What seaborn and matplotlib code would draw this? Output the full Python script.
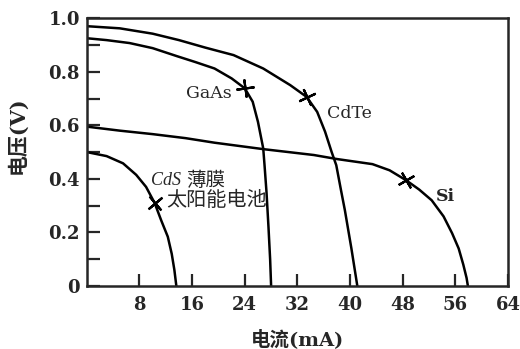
import matplotlib
matplotlib.use("Agg")
import matplotlib.pyplot as plt
import seaborn as sns
import pandas as pd

# I-V characteristics of several solar cells (current in mA, voltage in V)
gaas_i = [0, 3, 6.5, 10, 13.7, 16.5, 19.4, 22, 24.0, 25.2, 26.0, 26.8, 27.0,
          27.3, 27.6, 27.85, 28.0]
gaas_v = [0.925, 0.918, 0.907, 0.888, 0.858, 0.836, 0.812, 0.775, 0.738, 0.688,
          0.613, 0.514, 0.451, 0.35, 0.22, 0.10, 0.0]

cdte_i = [0, 5, 10, 14, 18, 22.3, 26.8, 30.9, 33.4, 35.0, 36.2, 37.2, 37.9,
          38.6, 39.2, 40.2, 41.1]
cdte_v = [0.97, 0.962, 0.942, 0.918, 0.89, 0.862, 0.812, 0.75, 0.706, 0.65,
          0.576, 0.50, 0.451, 0.36, 0.284, 0.14, 0.0]

si_i = [0, 5, 10, 15, 19.4, 26.8, 34.5, 38, 43.4, 46, 48.5, 50.5, 52.4, 54.2,
        55.5, 56.5, 57.2, 57.7, 57.9]
si_v = [0.595, 0.58, 0.567, 0.552, 0.535, 0.511, 0.489, 0.474, 0.455, 0.432,
        0.395, 0.36, 0.32, 0.26, 0.197, 0.14, 0.08, 0.03, 0.0]

cds_i = [0, 3, 5.5, 7.5, 9, 10.3, 11.3, 12.3, 12.9, 13.3, 13.6]
cds_v = [0.50, 0.485, 0.458, 0.415, 0.37, 0.31, 0.245, 0.184, 0.12, 0.06, 0.0]

# Maximum power points
mpp_i = [24.0, 33.4, 48.5, 10.3]
mpp_v = [0.738, 0.706, 0.395, 0.31]
mpp_angle = [8, 25, 30, 40]

x_ticks = [8, 16, 24, 32, 40, 48, 56, 64]
y_ticks = [0, 0.2, 0.4, 0.6, 0.8, 1.0]
y_tick_labels = ["0", "0.2", "0.4", "0.6", "0.8", "1.0"]

sns.set_style("ticks")
plt.rcParams["font.family"] = ["DejaVu Serif", "Noto Sans CJK SC"]

frames = []
for name, i, v in [("GaAs", gaas_i, gaas_v), ("CdTe", cdte_i, cdte_v),
                   ("Si", si_i, si_v), ("CdS", cds_i, cds_v)]:
    frames.append(pd.DataFrame({"cell": name, "I": i, "V": v}))
df = pd.concat(frames, ignore_index=True)

fig = plt.figure(figsize=(5.2, 3.49), dpi=100)
ax = fig.add_axes([0.167, 0.1805, 0.81, 0.7675])

sns.lineplot(data=df, x="I", y="V", units="cell", estimator=None, sort=False,
             color="black", linewidth=1.8, ax=ax, legend=False)

for xi, yi, ang in zip(mpp_i, mpp_v, mpp_angle):
    ax.plot([xi], [yi], marker=(4, 2, ang), markersize=13, color="black",
            markeredgewidth=1.6)

ax.set_xlim(0, 64)
ax.set_ylim(0, 1.0)
ax.set_xticks(x_ticks)
ax.set_xticklabels([str(t) for t in x_ticks])
ax.set_yticks(y_ticks)
ax.set_yticklabels(y_tick_labels)
ax.set_yticks([0.1, 0.3, 0.5, 0.7, 0.9], minor=True)

ax.tick_params(axis="both", which="both", direction="in", length=9, width=1.6,
               labelsize=13)
ax.tick_params(axis="x", pad=7)
ax.tick_params(axis="y", pad=5)
for lab in ax.get_xticklabels() + ax.get_yticklabels():
    lab.set_fontweight("bold")

for sp in ax.spines.values():
    sp.set_linewidth(1.8)
    sp.set_visible(True)

ax.set_xlabel("电流(mA)", fontsize=14, fontweight="bold",
              family=["DejaVu Serif", "Noto Sans CJK SC"])
ax.set_ylabel("电压(V)", fontsize=15, fontweight="bold",
              family=["DejaVu Serif", "Noto Sans CJK SC"])
ax.xaxis.set_label_coords(0.5, -0.16)
ax.yaxis.set_label_coords(-0.14, 0.563)

ax.text(22.0, 0.72, "GaAs", ha="right", va="center", fontsize=12.5)
ax.text(36.5, 0.645, "CdTe", ha="left", va="center", fontsize=12.5)
ax.text(53.0, 0.335, "Si", ha="left", va="center", fontsize=12.5,
        fontweight="bold")
ax.text(9.7, 0.395, "CdS", ha="left", va="center", fontsize=13,
        style="italic", family=["Liberation Serif"])
ax.text(15.1, 0.395, "薄膜", ha="left", va="center", fontsize=14,
        family=["Noto Sans CJK SC"])
ax.text(12.0, 0.32, "太阳能电池", ha="left", va="center", fontsize=14.5,
        family=["Noto Sans CJK SC"])

fig.savefig("out.png", dpi=100)
